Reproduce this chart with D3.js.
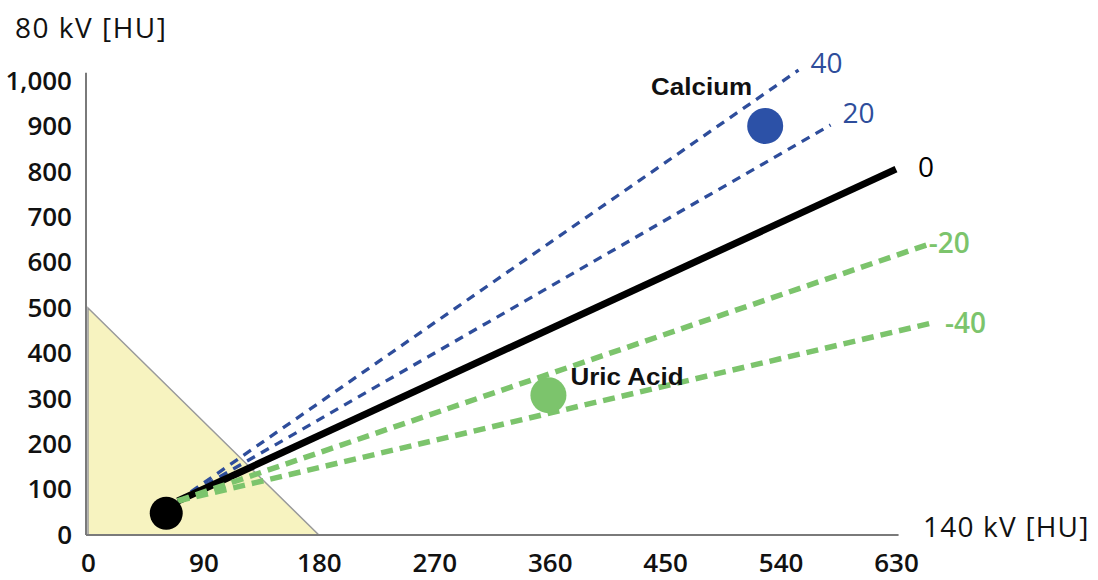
<!DOCTYPE html>
<html>
<head>
<meta charset="utf-8">
<script src="https://cdn.jsdelivr.net/npm/d3@7"></script>
<style>
  html, body { margin: 0; padding: 0; background: #fff; }
  svg { display: block; }
</style>
</head>
<body>
<div id="chart"></div>
<script>
// dual-energy ratio lines, 140 kV vs 80 kV
const xTicks = [0, 90, 180, 270, 360, 450, 540, 630]
const yTicks = [0, 100, 200, 300, 400, 500, 600, 700, 800, 900, 1000]

// shaded region (soft tissue / low HU)
const triangle = [[0, 0], [0, 500], [180, 0]]

// ratio lines, all leaving from the same point near the baseline tissue
const lineStart = [70, 75]
const lineNames = ['40', '20', '0', '-20', '-40']
const lineEnds = [[554, 1024], [579, 903], [630, 806], [654, 639], [658, 467]]
const lineKinds = ['blue', 'blue', 'solid', 'green', 'green']

// materials
const pointNames = ['', 'Calcium', 'Uric Acid']
const pointX = [61, 528, 359]
const pointY = [48, 901, 308]
const pointKinds = ['solid', 'blue', 'green']

const W = 1098, H = 580
const x = d3.scaleLinear().domain([0, 630]).range([88, 896])
const y = d3.scaleLinear().domain([0, 1000]).range([535, 81])

const colors = { blue: '#2e4d9b', green: '#7cc46c', solid: '#000' }
const dotColors = { blue: '#2c51a7', green: '#7cc46c', solid: '#000' }

const svg = d3.select('#chart').append('svg')
  .attr('width', W).attr('height', H)

// yellow triangle
svg.append('path')
  .attr('d', d3.line().x(d => x(d[0])).y(d => y(d[1]))(triangle) + 'Z')
  .attr('fill', '#f7f3c0')
  .attr('stroke', '#9a9a9a')
  .attr('stroke-width', 1.5)

// axes
const tickFont = "'Open Sans', sans-serif"
const yAxis = svg.append('g')
  .attr('transform', `translate(${x(0) - 2},0)`)
  .call(d3.axisLeft(y).tickValues(yTicks).tickFormat(d3.format(',')).tickSize(0).tickPadding(14))
yAxis.select('.domain').remove()

const xAxis = svg.append('g')
  .attr('transform', `translate(0,${y(0)})`)
  .call(d3.axisBottom(x).tickValues(xTicks).tickSize(0).tickPadding(19))
xAxis.select('.domain').remove()

svg.selectAll('.tick text')
  .style('font-family', tickFont)
  .style('font-size', '26px')
  .style('font-weight', 600)
  .attr('fill', '#111')

svg.append('line')
  .attr('x1', x(0) - 2).attr('x2', x(0) - 2)
  .attr('y1', y(0)).attr('y2', y(1018))
  .attr('stroke', '#7a7a7a').attr('stroke-width', 2)
svg.append('line')
  .attr('x1', x(0) - 2).attr('x2', x(632))
  .attr('y1', y(0)).attr('y2', y(0))
  .attr('stroke', '#7a7a7a').attr('stroke-width', 2)

// ratio lines
const dash = { blue: '9,7', green: '12,7', solid: null }
const widths = { blue: 3.3, green: 5.5, solid: 7 }
lineEnds.forEach((e, i) => {
  const k = lineKinds[i]
  svg.append('line')
    .attr('x1', x(lineStart[0])).attr('y1', y(lineStart[1]))
    .attr('x2', x(e[0])).attr('y2', y(e[1]))
    .attr('stroke', colors[k])
    .attr('stroke-width', widths[k])
    .attr('stroke-dasharray', dash[k])
})

// line labels
const labelOff = [[12, 3], [12, -2], [22, 8], [2, 8], [13, 10]]
lineEnds.forEach((e, i) => {
  svg.append('text')
    .attr('x', x(e[0]) + labelOff[i][0])
    .attr('y', y(e[1]) + labelOff[i][1])
    .style('font-family', tickFont)
    .style('font-size', '28px')
    .style('font-weight', lineKinds[i] === 'green' ? 600 : 400)
    .attr('fill', colors[lineKinds[i]])
    .text(lineNames[i])
})

// material points
pointX.forEach((px, i) => {
  svg.append('circle')
    .attr('cx', x(px)).attr('cy', y(pointY[i]))
    .attr('r', i === 0 ? 16.5 : 18)
    .attr('fill', dotColors[pointKinds[i]])
})

// material names
const nameOff = [null, [-13, -31, 'end'], [22, -10, 'start']]
pointNames.forEach((n, i) => {
  if (!n) return
  const o = nameOff[i]
  svg.append('text')
    .attr('transform', `translate(${x(pointX[i]) + o[0]},${y(pointY[i]) + o[1]}) scale(1.13,1)`)
    .attr('text-anchor', o[2])
    .style('font-family', "'Liberation Sans', Arial, sans-serif")
    .style('font-size', '23px')
    .style('font-weight', 'bold')
    .attr('fill', '#111')
    .text(n)
})

// axis titles
svg.append('text')
  .attr('x', 15).attr('y', 38)
  .style('font-family', tickFont).style('font-size', '28px')
  .style('letter-spacing', '1.5px')
  .attr('fill', '#111')
  .text('80 kV [HU]')
svg.append('text')
  .attr('x', 923).attr('y', 537)
  .style('font-family', tickFont).style('font-size', '28px')
  .style('letter-spacing', '1.2px')
  .attr('fill', '#111')
  .text('140 kV [HU]')
</script>
</body>
</html>
